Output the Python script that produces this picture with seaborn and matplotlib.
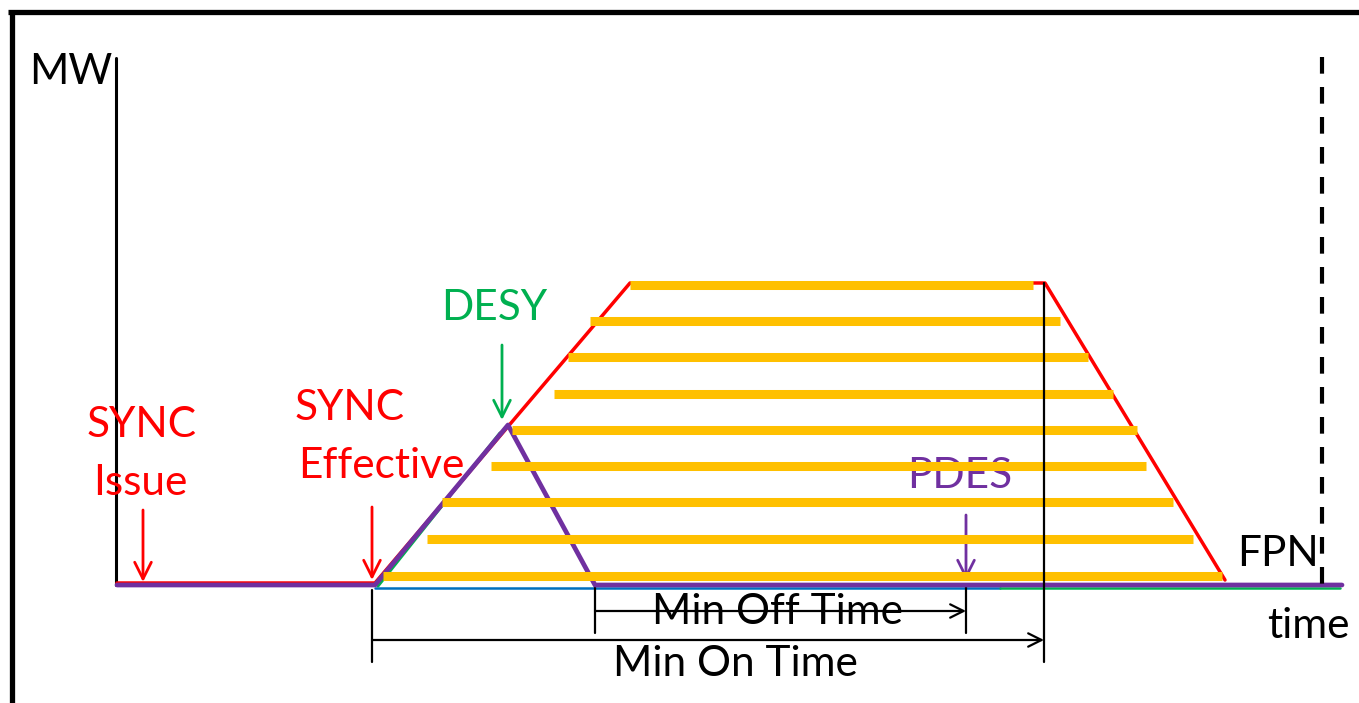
import matplotlib
matplotlib.use("Agg")
import matplotlib.pyplot as plt
import seaborn as sns
import pandas as pd

# colours (Office palette)
RED = "#FF0000"
PURPLE = "#7030A0"
GREEN = "#00B050"
ORANGE = "#FFC000"
BLUE = "#0070C0"

# schematic profiles: time vs MW
red_time = [117, 375, 630, 1045, 1225]
red_mw = [0, 0, 300, 300, 3]

purple_time = [117, 375, 508, 595, 1342]
purple_mw = [-2, -2, 158, -2, -2]

# orange bars (one per MW level)
bar_mw = [298, 262, 226, 189, 153, 117, 81, 44, 7]
bar_start = [630, 590, 568, 554, 512, 491, 442, 427, 383]
bar_end = [1033, 1060, 1088, 1113, 1137, 1146, 1173, 1193, 1222]

sns.set_theme(style="white")
plt.rcParams["font.family"] = ["Lato", "DejaVu Sans"]

fig = plt.figure(figsize=(13.59, 7.03), dpi=100)
ax = fig.add_axes([0, 0, 1, 1])
ax.set_xlim(0, 1359)
ax.set_ylim(-120, 583)
ax.axis("off")

FS = 30.5

# outer frame
ax.plot([8, 1370], [571, 571], color="black", lw=3.8, solid_capstyle="butt")
ax.plot([12, 12], [573, -130], color="black", lw=3.8, solid_capstyle="butt")

# MW axis
ax.plot([116, 116], [525, -2], color="black", lw=2.2)
ax.text(29, 511, "MW", fontsize=FS, ha="left", va="center", color="black")

# thin baselines underneath
ax.plot([375, 1000], [-4.5, -4.5], color=BLUE, lw=1.8, zorder=2)
ax.plot([1000, 1340], [-4.5, -4.5], color=GREEN, lw=1.8, zorder=2)
ax.plot([378, 500], [-3, 150], color=GREEN, lw=2.2, zorder=2)

# PDES label sits behind the bars
ax.text(960, 107, "PDES", fontsize=FS, ha="center", va="center", color=PURPLE, zorder=1)

# red and purple traces
red_df = pd.DataFrame({"time": red_time, "mw": red_mw})
purple_df = pd.DataFrame({"time": purple_time, "mw": purple_mw})
sns.lineplot(data=red_df, x="time", y="mw", sort=False, color=RED, lw=2.5, ax=ax, zorder=3)
sns.lineplot(data=purple_df, x="time", y="mw", sort=False, color=PURPLE, lw=3.4, ax=ax, zorder=3)

# orange bars on top
ax.hlines(bar_mw, bar_start, bar_end, color=ORANGE, lw=6.5, zorder=4)

# vertical markers
ax.plot([1044, 1044], [300, -79], color="black", lw=1.6, zorder=5)
ax.plot([1322, 1322], [526, -2], color="black", lw=3.0, ls=(0, (4, 3.2)), zorder=5)
ax.plot([372, 372], [-7, -79], color="black", lw=1.6)
ax.plot([595, 595], [-2, -50], color="black", lw=1.6)
ax.plot([966, 966], [-2, -50], color="black", lw=1.6)

# arrows
arrow_kw = dict(arrowstyle="->", mutation_scale=30, lw=2.0, shrinkA=0, shrinkB=0)
ax.annotate("", xy=(143, 1), xytext=(143, 73), arrowprops=dict(color=RED, **arrow_kw), zorder=6)
ax.annotate("", xy=(372, 3), xytext=(372, 76), arrowprops=dict(color=RED, **arrow_kw), zorder=6)
ax.annotate("", xy=(502, 163), xytext=(502, 238), arrowprops=dict(color=GREEN, **arrow_kw), zorder=6)
ax.annotate("", xy=(966, 3), xytext=(966, 68), arrowprops=dict(color=PURPLE, **arrow_kw), zorder=3)
span_kw = dict(arrowstyle="->", mutation_scale=24, lw=1.6, shrinkA=0, shrinkB=0, color="black")
ax.annotate("", xy=(966, -28), xytext=(595, -28), arrowprops=span_kw, zorder=6)
ax.annotate("", xy=(1044, -57), xytext=(372, -57), arrowprops=span_kw, zorder=6)

# labels
ax.text(142, 158, "SYNC", fontsize=FS, ha="center", va="center", color=RED)
ax.text(140, 100, "Issue", fontsize=FS, ha="center", va="center", color=RED)
ax.text(350, 175, "SYNC", fontsize=FS, ha="center", va="center", color=RED)
ax.text(381, 117, "Effective", fontsize=FS, ha="center", va="center", color=RED)
ax.text(494, 275, "DESY", fontsize=FS, ha="center", va="center", color=GREEN)
ax.text(1278, 29, "FPN", fontsize=FS, ha="center", va="center", color="black")
ax.text(1308, -43, "time", fontsize=FS, ha="center", va="center", color="black")
ax.text(777, -29, "Min Off Time", fontsize=FS, ha="center", va="center", color="black", zorder=5)
ax.text(735, -81, "Min On Time", fontsize=FS, ha="center", va="center", color="black")

fig.savefig("out.png", dpi=100, facecolor="white")
